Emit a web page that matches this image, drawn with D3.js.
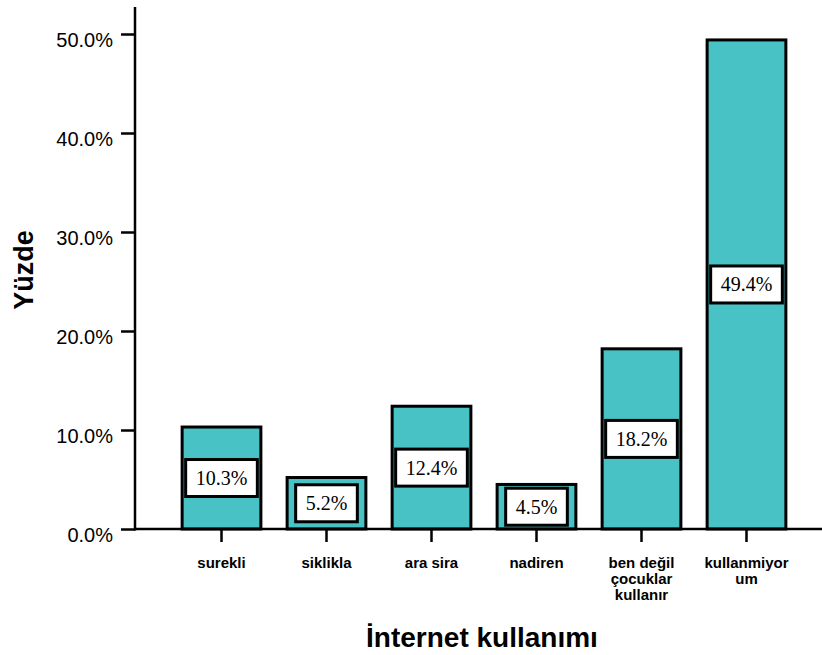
<!DOCTYPE html>
<html>
<head>
<meta charset="utf-8">
<script src="https://cdn.jsdelivr.net/npm/d3@7/dist/d3.min.js"></script>
<style>
  html, body { margin: 0; padding: 0; background: #fff; }
  svg { display: block; }
  text { font-family: "Liberation Sans", Arial, Helvetica, sans-serif; fill: #000; }
</style>
</head>
<body>
<svg id="chart" width="822" height="655"></svg>
<script>
const categories = ["surekli", "siklikla", "ara sira", "nadiren", "ben değil\nçocuklar\nkullanır", "kullanmiyor\num"];
const values = [10.3, 5.2, 12.4, 4.5, 18.2, 49.4];
const yTicks = [0, 10, 20, 30, 40, 50];
const yTitle = "Yüzde";
const xTitle = "İnternet kullanımı";

const svg = d3.select("#chart");
const x0 = 135, yBase = 529;

const x = d3.scaleBand().domain(categories).range([169, 799]).paddingInner(0.25).paddingOuter(0.125);
const y = d3.scaleLinear().domain([0, 50]).range([yBase, 34]);

// bars
const g = svg.append("g");
g.selectAll("rect.bar").data(values).enter().append("rect")
  .attr("class", "bar")
  .attr("x", (d, i) => x(categories[i]))
  .attr("width", x.bandwidth())
  .attr("y", d => y(d))
  .attr("height", d => yBase - y(d))
  .attr("fill", "#48C2C5")
  .attr("stroke", "#000")
  .attr("stroke-width", 3);

// value labels
values.forEach((v, i) => {
  const cx = x(categories[i]) + x.bandwidth() / 2;
  const cy = y(v / 2);
  const lg = g.append("g");
  const box = lg.append("rect");
  const t = lg.append("text")
    .attr("x", cx).attr("y", cy + 7)
    .attr("text-anchor", "middle")
    .style("font-family", '"Liberation Serif", "Times New Roman", Times, serif')
    .style("font-size", "20px")
    .text(v.toFixed(1) + "%");
  const w = t.node().getComputedTextLength() + 20;
  box.attr("x", cx - w / 2).attr("y", cy - 18.5).attr("width", w).attr("height", 37)
    .attr("fill", "#fff").attr("stroke", "#000").attr("stroke-width", 3);
});

// y axis
const yAxis = d3.axisLeft(y).tickValues(yTicks).tickSize(14).tickPadding(8)
  .tickFormat(d => d.toFixed(1) + "%");
const ya = svg.append("g").attr("transform", `translate(${x0},0)`).call(yAxis);
ya.select(".domain").remove();
ya.selectAll(".tick line").attr("stroke", "#000").attr("stroke-width", 2.5);
ya.selectAll(".tick text").style("font-size", "20px").attr("dy", null).attr("y", 12)
  .style("font-family", '"Liberation Sans", Arial, Helvetica, sans-serif');
svg.append("line").attr("x1", x0).attr("x2", x0).attr("y1", 7).attr("y2", yBase + 1.5)
  .attr("stroke", "#000").attr("stroke-width", 2.5);

// x axis
const xAxis = d3.axisBottom(x).tickSize(13).tickFormat("");
const xa = svg.append("g").attr("transform", `translate(0,${yBase})`).call(xAxis);
xa.select(".domain").remove();
xa.selectAll(".tick line").attr("stroke", "#000").attr("stroke-width", 2.5);
svg.append("line").attr("x1", x0 - 1).attr("x2", 822).attr("y1", yBase).attr("y2", yBase)
  .attr("stroke", "#000").attr("stroke-width", 2.5);

categories.forEach(c => {
  const lines = c.split("\n");
  const t = svg.append("text")
    .attr("text-anchor", "middle")
    .style("font-size", "15px").style("font-weight", "bold");
  lines.forEach((ln, j) => {
    t.append("tspan").attr("x", x(c) + x.bandwidth() / 2).attr("y", 568 + j * 16).text(ln);
  });
});

// titles
svg.append("text").attr("x", 482).attr("y", 647).attr("text-anchor", "middle")
  .style("font-size", "28px").style("font-weight", "bold").text(xTitle);
svg.append("text").attr("transform", "translate(33,270) rotate(-90)").attr("text-anchor", "middle")
  .style("font-size", "27px").style("font-weight", "bold").text(yTitle);
</script>
</body>
</html>
